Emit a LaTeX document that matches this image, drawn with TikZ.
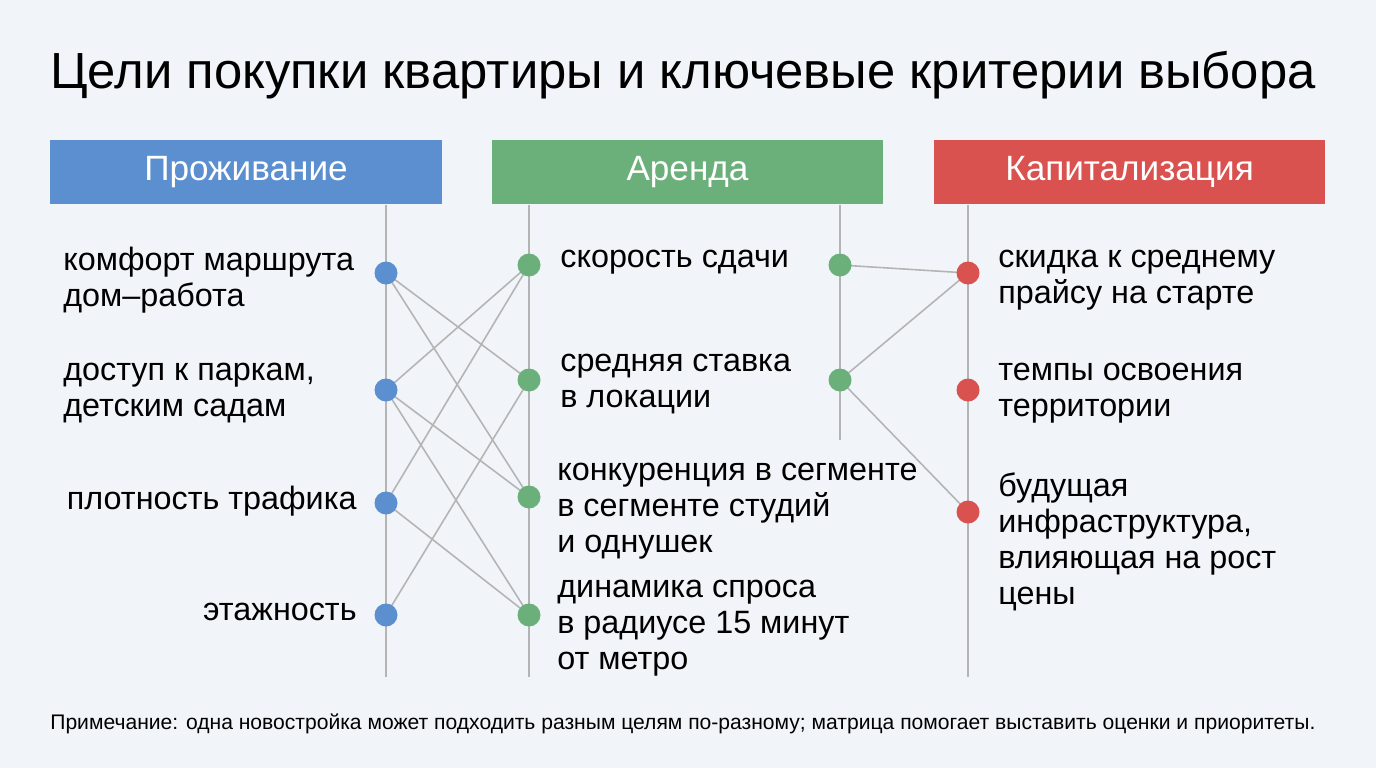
\documentclass[tikz,border=0pt]{standalone}
\usepackage{fontspec}
\setmainfont{Liberation Sans}
\definecolor{bg}{HTML}{F1F5F9}
\definecolor{cblue}{HTML}{5B8FD0}
\definecolor{cgreen}{HTML}{6BB07A}
\definecolor{cred}{HTML}{D9524F}
\definecolor{wire}{HTML}{B4B4B4}
\tikzset{
  head/.style={minimum width=7.84cm,minimum height=1.3cm,text=white,font=\fontsize{20}{24}\selectfont},
  lab/.style={font=\fontsize{18.4}{20.6}\selectfont,align=left,inner sep=0pt},
  dot/.style={circle,minimum size=0.46cm,inner sep=0pt},
  rail/.style={wire,line width=1.2pt},
  link/.style={wire,line width=0.9pt}
}
\begin{document}
\begin{tikzpicture}[x=0.02cm,y=-0.02cm]
  \fill[bg] (0,0) rectangle (1376,768);
  \node[anchor=west,inner sep=0pt,font=\fontsize{28.9}{32}\selectfont] (title) at (50,75) {Цели покупки квартиры и ключевые критерии выбора};
  \node[head,fill=cblue] (hL) at (246,172) {Проживание};
  \node[head,fill=cgreen] (hA) at (687.5,172) {Аренда};
  \node[head,fill=cred] (hK) at (1129.5,172) {Капитализация};
  % rails
  \draw[rail] (386,205) -- (386,677);
  \draw[rail] (529,205) -- (529,677);
  \draw[rail] (840,205) -- (840,440);
  \draw[rail] (968,205) -- (968,677);
  % dots
  \node[dot] (b1) at (386,273) {};
  \node[dot] (b2) at (386,390) {};
  \node[dot] (b3) at (386,503) {};
  \node[dot] (b4) at (386,615) {};
  \node[dot] (g1) at (529,265) {};
  \node[dot] (g2) at (529,380) {};
  \node[dot] (g3) at (529,497) {};
  \node[dot] (g4) at (529,615) {};
  \node[dot] (g5) at (840,265) {};
  \node[dot] (g6) at (840,380) {};
  \node[dot] (r1) at (968,273) {};
  \node[dot] (r2) at (968,390) {};
  \node[dot] (r3) at (968,512) {};
  % links
  \foreach \a/\b in {b1/g2,b1/g3,b2/g1,b2/g3,b2/g4,b3/g1,b3/g4,b4/g2,g5/r1,g6/r1,g6/r3}
    \draw[link] (\a.center) -- (\b.center);
  \foreach \n/\c in {b1/cblue,b2/cblue,b3/cblue,b4/cblue,g1/cgreen,g2/cgreen,g3/cgreen,g4/cgreen,g5/cgreen,g6/cgreen,r1/cred,r2/cred,r3/cred}
    \fill[\c] (\n) circle (0.23cm);
  % labels
  \node[lab,anchor=west] (tL1) at (63,280) {комфорт маршрута\\дом–работа};
  \node[lab,anchor=west] (tL2) at (63,393) {доступ к паркам,\\детским садам};
  \node[lab,anchor=east] (tL3) at (357,501) {плотность трафика};
  \node[lab,anchor=east] (tL4) at (357,612) {этажность};
  \node[lab,anchor=west] (tA1) at (560,262) {скорость сдачи};
  \node[lab,anchor=west] (tA2) at (560,384) {средняя ставка\\в локации};
  \node[lab,anchor=west] (tA3) at (557,511) {конкуренция в сегменте\\в сегменте студий\\и однушек};
  \node[lab,anchor=west] (tA4) at (557,628) {динамика спроса\\в радиусе 15 минут\\от метро};
  \node[lab,anchor=west] (tK1) at (998,280) {скидка к среднему\\прайсу на старте};
  \node[lab,anchor=west] (tK2) at (998,393) {темпы освоения\\территории};
  \node[lab,anchor=west] (tK3) at (998,542) {будущая\\инфраструктура,\\влияющая на рост\\цены};
  \node[anchor=west,inner sep=0pt,font=\fontsize{12}{14}\selectfont] (note) at (50,724) {Примечание: одна новостройка может подходить разным целям по-разному; матрица помогает выставить оценки и приоритеты.};
\end{tikzpicture}
\end{document}
